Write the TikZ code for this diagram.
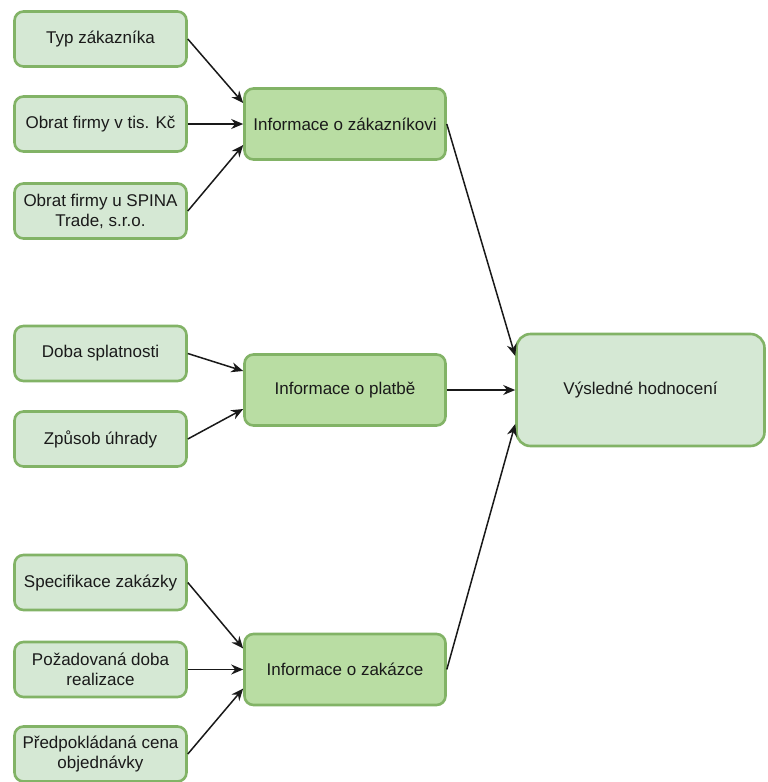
\documentclass[tikz,border=0pt]{standalone}
\usepackage{fontspec}
\setmainfont{Liberation Sans}
\usetikzlibrary{arrows.meta}
\definecolor{lfill}{HTML}{D5E8D4}
\definecolor{mfill}{HTML}{B9DDA3}
\definecolor{gstroke}{HTML}{82B366}
\definecolor{txt}{HTML}{1A1A1A}
\tikzset{
  base/.style={rectangle, rounded corners=9pt, draw=gstroke, line width=2.6pt,
    text=txt, align=center, inner sep=2pt,
    font=\fontsize{17}{20}\selectfont},
  leftbox/.style={base, fill=lfill, minimum width=172pt, minimum height=55pt},
  midbox/.style={base, fill=mfill, minimum width=201pt, minimum height=71pt},
  resbox/.style={base, fill=lfill, minimum width=248pt, minimum height=112pt, rounded corners=14pt},
  conn/.style={draw=black!90, line width=1.5pt, -{Stealth[length=12pt,width=10pt]}}
}
\begin{document}
\begin{tikzpicture}[x=1pt,y=-1pt]
\useasboundingbox (0,0) rectangle (768,782);
\clip (0,0) rectangle (768,782);
\fill[white] (0,0) rectangle (768,782);
% left boxes
\node[leftbox] (l1) at (100.5,39) {Typ zákazníka};
\node[leftbox] (l2) at (100.5,124) {Obrat firmy v tis. Kč};
\node[leftbox] (l3) at (100.5,211) {Obrat firmy u SPINA\\Trade, s.r.o.};
\node[leftbox] (l4) at (100.5,353.5) {Doba splatnosti};
\node[leftbox] (l5) at (100.5,439) {Způsob úhrady};
\node[leftbox] (l6) at (100.5,582.5) {Specifikace zakázky};
\node[leftbox] (l7) at (100.5,669.5) {Požadovaná doba\\realizace};
\node[leftbox] (l8) at (100.5,754) {Předpokládaná cena\\objednávky};
% middle boxes
\node[midbox] (m1) at (345,124) {Informace o zákazníkovi};
\node[midbox] (m2) at (345,390) {Informace o platbě};
\node[midbox] (m3) at (345,669.5) {Informace o zakázce};
% result
\node[resbox] (r) at (640.5,390) {Výsledné hodnocení};
% connectors
\draw[conn] (l1.east) -- ([yshift=21pt]m1.west);
\draw[conn] (l2.east) -- (m1.west);
\draw[conn] (l3.east) -- ([yshift=-21pt]m1.west);
\draw[conn] (l4.east) -- ([yshift=19pt]m2.west);
\draw[conn] (l5.east) -- ([yshift=-19pt]m2.west);
\draw[conn] (l6.east) -- ([yshift=21pt]m3.west);
\draw[conn] (l7.east) -- (m3.west);
\draw[conn] (l8.east) -- ([yshift=-19pt]m3.west);
\draw[conn] (m1.east) -- ([yshift=34pt]r.west);
\draw[conn] (m2.east) -- (r.west);
\draw[conn] (m3.east) -- ([yshift=-34pt]r.west);
\end{tikzpicture}
\end{document}
